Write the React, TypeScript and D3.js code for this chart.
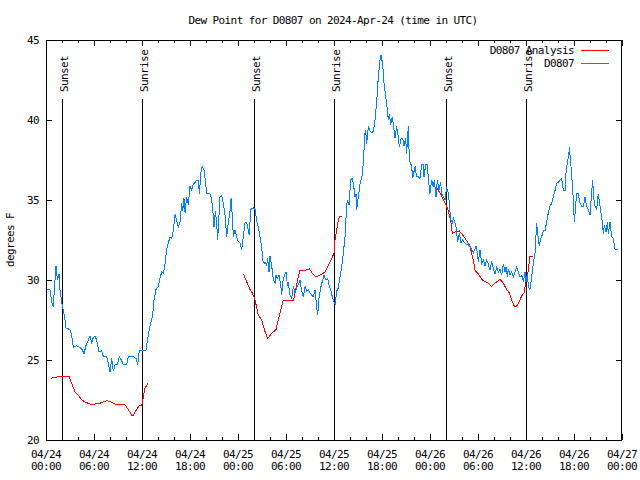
import React from "react";
import * as d3 from "d3";

const TITLE = "Dew Point for D0807 on 2024-Apr-24 (time in UTC)";
const Y_LABEL = "degrees F";
const SERIES_NAMES = ["D0807 Analysis", "D0807"];
const SERIES_COLORS = ["#ff0000", "#0080ff"];

const X_TICK_HOURS = [0, 6, 12, 18, 24, 30, 36, 42, 48, 54, 60, 66, 72];
const X_TICK_LABELS = [
  ["04/24", "00:00"], ["04/24", "06:00"], ["04/24", "12:00"], ["04/24", "18:00"],
  ["04/25", "00:00"], ["04/25", "06:00"], ["04/25", "12:00"], ["04/25", "18:00"],
  ["04/26", "00:00"], ["04/26", "06:00"], ["04/26", "12:00"], ["04/26", "18:00"],
  ["04/27", "00:00"],
];
const Y_TICKS = [20, 25, 30, 35, 40, 45];

const SUN_EVENTS: [number, string][] = [
  [2, "Sunset"], [12, "Sunrise"], [26, "Sunset"], [36, "Sunrise"], [50, "Sunset"], [60, "Sunrise"],
];

// observed dew point [hours since 2024-04-24 00:00 UTC, degF]
const OBS: [number, number][] = [
  [0, 29.4], [0.5, 29.4], [0.71, 28.6], [0.92, 28.3], [1.04, 29.4], [1.25, 30.9], [1.42, 30.0], [1.63, 30.4],
  [1.75, 29.4], [1.96, 28.6], [2.17, 28.1], [2.38, 27.5], [2.5, 27.0], [3.0, 26.9], [3.21, 26.5], [3.42, 25.8],
  [3.83, 25.9], [4.46, 25.7], [4.75, 25.4], [5.0, 25.9], [5.29, 26.25], [5.5, 26.5], [5.71, 26.1], [5.92, 26.4],
  [6.13, 26.5], [6.33, 26.25], [6.63, 25.5], [6.96, 25.6], [7.17, 25.2], [7.58, 25.2], [7.79, 24.8], [8.0, 24.25],
  [8.21, 25.1], [8.42, 24.3], [8.63, 24.7], [8.92, 24.7], [9.17, 25.2], [9.46, 24.95], [9.67, 24.7], [10.08, 24.7],
  [10.29, 25.2], [10.92, 25.2], [11.25, 25.1], [11.46, 24.7], [11.67, 25.6], [12.17, 25.6], [12.5, 25.6], [12.67, 26.25],
  [12.79, 26.56], [12.92, 26.9], [13.08, 27.3], [13.33, 27.8], [13.5, 28.75], [13.75, 29.4], [14.04, 29.6], [14.25, 30.1],
  [14.46, 30.5], [14.67, 30.4], [14.88, 31.0], [15.08, 31.9], [15.29, 32.3], [15.5, 32.7], [15.71, 32.6], [15.92, 33.1],
  [16.13, 34.1], [16.33, 33.75], [16.54, 33.3], [16.75, 33.6], [16.96, 34.8], [17.08, 34.3], [17.25, 35.1], [17.38, 34.2],
  [17.58, 35.2], [17.79, 34.7], [18.0, 35.9], [18.21, 35.6], [18.42, 36.0], [18.63, 36.1], [18.83, 36.25], [19.04, 36.25],
  [19.17, 35.4], [19.38, 36.8], [19.54, 37.1], [19.75, 36.9], [19.96, 36.0], [20.08, 35.4], [20.5, 35.4], [20.71, 35.0],
  [20.92, 33.96], [21.0, 33.3], [21.17, 34.3], [21.33, 33.6], [21.46, 32.5], [21.54, 33.3], [21.75, 35.2], [21.96, 35.3],
  [22.17, 34.8], [22.38, 34.06], [22.58, 32.7], [22.79, 33.6], [23.0, 34.3], [23.13, 35.1], [23.29, 34.0], [23.42, 32.7],
  [23.63, 33.1], [23.83, 32.7], [24.04, 32.4], [24.25, 32.3], [24.46, 31.9], [24.67, 32.7], [24.88, 33.6], [25.08, 33.6],
  [25.29, 33.1], [25.42, 32.8], [25.58, 34.4], [25.92, 34.5], [26.13, 34.4], [26.33, 33.75], [26.54, 33.3], [26.75, 32.7],
  [26.96, 32.1], [27.08, 31.25], [27.25, 31.04], [27.46, 31.1], [27.58, 30.9], [27.71, 31.35], [27.88, 30.5], [28.0, 31.5],
  [28.21, 30.9], [28.42, 30.0], [28.63, 29.8], [28.75, 30.3], [28.92, 30.1], [29.13, 30.3], [29.33, 29.7], [29.46, 29.06],
  [29.58, 29.8], [29.75, 30.2], [30.0, 30.5], [30.17, 29.7], [30.29, 29.8], [30.5, 29.06], [30.71, 28.85], [30.92, 29.6],
  [31.13, 29.2], [31.33, 29.5], [31.54, 29.7], [31.75, 30.0], [31.96, 29.3], [32.17, 28.96], [32.38, 29.6], [32.58, 29.3],
  [32.79, 29.4], [33.0, 29.2], [33.21, 29.06], [33.42, 28.96], [33.63, 29.4], [33.83, 28.3], [33.96, 27.8], [34.13, 28.9],
  [34.33, 29.5], [34.58, 30.0], [34.75, 30.3], [35.0, 30.0], [35.21, 30.1], [35.42, 29.6], [35.63, 29.3], [35.83, 28.85],
  [36.04, 28.6], [36.17, 28.5], [36.33, 29.3], [36.54, 29.5], [36.75, 30.2], [36.96, 30.8], [37.17, 31.7], [37.38, 32.7],
  [37.58, 34.6], [37.67, 35.0], [37.88, 34.7], [38.08, 36.25], [38.25, 36.35], [38.42, 36.04], [38.63, 35.2], [38.75, 35.4],
  [38.83, 34.4], [39.04, 35.2], [39.25, 36.0], [39.54, 36.6], [39.67, 37.4], [39.88, 39.2], [39.96, 39.4], [40.08, 38.5],
  [40.29, 39.6], [40.5, 39.3], [40.71, 39.2], [40.92, 39.3], [41.13, 40.0], [41.33, 41.1], [41.54, 42.7], [41.75, 43.75],
  [41.88, 44.06], [42.08, 43.5], [42.25, 42.3], [42.46, 41.5], [42.67, 40.6], [42.79, 40.0], [42.92, 40.4], [43.08, 39.7],
  [43.29, 40.2], [43.5, 39.4], [43.63, 38.85], [43.83, 39.6], [44.04, 38.96], [44.17, 38.3], [44.38, 38.85], [44.58, 38.85],
  [44.75, 38.4], [44.96, 38.85], [45.08, 37.9], [45.29, 39.6], [45.42, 37.5], [45.71, 37.1], [45.83, 36.35], [46.13, 37.1],
  [46.33, 36.46], [46.54, 36.46], [46.75, 36.35], [46.96, 37.2], [47.17, 37.2], [47.25, 36.46], [47.46, 37.2], [47.67, 37.2],
  [47.79, 36.35], [48.0, 35.4], [48.21, 36.25], [48.42, 35.8], [48.54, 36.25], [48.75, 35.2], [48.92, 36.25], [49.13, 35.6],
  [49.33, 36.1], [49.46, 35.4], [49.67, 35.2], [49.88, 35.0], [50.08, 35.8], [50.29, 35.4], [50.42, 34.8], [50.58, 33.75],
  [50.79, 33.6], [50.92, 33.85], [51.13, 33.54], [51.25, 33.3], [51.46, 32.4], [51.67, 32.9], [51.88, 32.3], [52.08, 32.5],
  [52.38, 32.3], [52.58, 32.2], [52.79, 32.2], [53.0, 32.1], [53.21, 31.9], [53.42, 31.7], [53.75, 32.1], [53.92, 31.7],
  [54.04, 31.15], [54.25, 31.9], [54.46, 31.04], [54.67, 31.25], [54.88, 30.9], [55.08, 31.25], [55.29, 31.0], [55.5, 30.6],
  [55.71, 31.15], [55.92, 30.7], [56.13, 30.4], [56.33, 30.8], [56.54, 30.5], [56.75, 30.7], [56.96, 30.3], [57.17, 31.0],
  [57.38, 30.5], [57.5, 30.8], [57.67, 30.2], [57.79, 30.7], [58.0, 30.3], [58.21, 30.5], [58.42, 30.2], [58.63, 30.5],
  [58.83, 30.8], [59.04, 30.5], [59.25, 30.2], [59.46, 30.3], [59.67, 29.9], [59.88, 30.5], [60.0, 29.9], [60.17, 30.4],
  [60.29, 29.6], [60.5, 29.4], [60.71, 30.2], [60.92, 31.04], [61.13, 31.7], [61.33, 33.54], [61.46, 32.9], [61.67, 32.1],
  [61.83, 32.6], [61.96, 32.7], [62.17, 33.1], [62.38, 33.1], [62.58, 33.6], [62.79, 34.2], [63.0, 34.6], [63.21, 34.8],
  [63.42, 35.2], [63.63, 35.6], [63.83, 36.04], [64.04, 36.1], [64.25, 36.25], [64.46, 36.35], [64.67, 35.6], [64.88, 35.6],
  [65.0, 36.67], [65.17, 37.4], [65.33, 37.7], [65.42, 38.3], [65.58, 37.4], [65.71, 36.56], [65.92, 35.0], [66.04, 33.6],
  [66.17, 34.4], [66.33, 35.4], [66.54, 35.4], [66.75, 34.8], [66.96, 34.6], [67.17, 34.6], [67.38, 35.2], [67.58, 34.6],
  [67.79, 34.4], [68.0, 34.06], [68.21, 35.5], [68.33, 36.25], [68.5, 35.0], [68.63, 34.6], [68.83, 34.4], [69.04, 35.4],
  [69.25, 34.6], [69.46, 33.96], [69.67, 32.9], [69.79, 33.44], [70.0, 33.0], [70.17, 33.6], [70.29, 32.9], [70.5, 33.6],
  [70.71, 32.7], [70.92, 32.6], [71.13, 31.9], [71.54, 31.9],
];

// analysis dew point, three separate segments
const ANALYSIS_1: [number, number][] = [
  [0.63, 23.86], [1.13, 23.9], [1.75, 24.0], [2.38, 23.96], [2.88, 23.96], [3.21, 23.54], [3.63, 23.0], [4.04, 22.8],
  [4.46, 22.5], [5.0, 22.35], [5.5, 22.25], [6.13, 22.25], [6.75, 22.3], [7.25, 22.4], [7.67, 22.46], [8.0, 22.4],
  [8.63, 22.25], [9.25, 22.2], [9.88, 22.2], [10.29, 21.9], [10.71, 21.56], [10.92, 21.56], [11.33, 21.9], [11.67, 22.14],
  [11.96, 22.14], [12.17, 22.7], [12.38, 23.23], [12.79, 23.6],
];
const ANALYSIS_2: [number, number][] = [
  [24.67, 30.4], [25.08, 29.9], [25.5, 29.4], [25.79, 29.2], [26.13, 28.75], [26.54, 27.8], [26.96, 27.5], [27.38, 26.77],
  [27.71, 26.35], [28.21, 26.67], [28.75, 26.9], [29.04, 27.5], [29.38, 28.2], [29.67, 28.75], [30.17, 28.7], [30.92, 28.7],
  [31.21, 29.4], [31.54, 30.2], [31.75, 30.6], [32.38, 30.6], [32.92, 30.7], [33.33, 30.4], [33.75, 30.2], [34.25, 30.3],
  [34.88, 30.5], [35.29, 30.9], [35.71, 31.35], [36.0, 31.67], [36.13, 32.5], [36.33, 33.1], [36.54, 33.75], [36.67, 33.96],
  [36.96, 34.0],
];
const ANALYSIS_3: [number, number][] = [
  [48.75, 35.9], [49.04, 35.6], [49.33, 35.4], [49.67, 35.0], [50.0, 34.7], [50.29, 34.3], [50.58, 33.75], [50.79, 32.9],
  [51.13, 33.0], [51.67, 33.06], [51.96, 32.9], [52.38, 32.6], [52.79, 32.3], [53.0, 32.1], [53.21, 31.67], [53.42, 31.25],
  [53.63, 30.6], [54.04, 30.4], [54.46, 30.04], [54.88, 29.9], [55.29, 29.8], [55.71, 29.6], [56.13, 29.8], [56.75, 30.04],
  [57.17, 29.8], [57.58, 29.4], [57.92, 29.2], [58.21, 28.75], [58.5, 28.4], [58.75, 28.3], [59.04, 28.54], [59.46, 29.0],
  [59.75, 29.2], [60.0, 29.9], [60.29, 30.6], [60.5, 31.5], [60.83, 31.5],
];
const ANALYSIS_SEGMENTS = [ANALYSIS_1, ANALYSIS_2, ANALYSIS_3];

const W = 640, H = 480;
const M = { left: 46, right: 622, top: 40, bottom: 440 };
const FONT = "'DejaVu Sans Mono', 'Liberation Mono', monospace";
const FS = 11;
const LS = -0.6;

export default function App() {
  const x = d3.scaleLinear().domain([0, 72]).range([M.left, M.right]);
  const y = d3.scaleLinear().domain([20, 45]).range([M.bottom, M.top]);
  const line = d3.line<[number, number]>().x((d) => x(d[0])).y((d) => y(d[1]));
  const minorHours = d3.range(0, 73, 2);
  const txt = { fontFamily: FONT, fontSize: FS, letterSpacing: LS, fill: "#000" } as any;
  const px = (v: number) => Math.round(v) + 0.5;

  return (
    <svg width={W} height={H} style={{ position: "absolute", left: 0, top: 0, background: "#fff" }}>
      <rect x={0} y={0} width={W} height={H} fill="#fff" />
      <text x={333} y={24} textAnchor="middle" {...txt}>{TITLE}</text>
      <text transform="translate(14,240) rotate(-90)" textAnchor="middle" {...txt}>{Y_LABEL}</text>

      <g shapeRendering="crispEdges" stroke="#000" strokeWidth={1}>
        {minorHours.map((h) => {
          const major = h % 6 === 0;
          const len = major ? 6 : 3;
          return (
            <g key={"xt" + h}>
              <line x1={px(x(h))} x2={px(x(h))} y1={M.bottom} y2={M.bottom - len} />
              <line x1={px(x(h))} x2={px(x(h))} y1={M.top} y2={M.top + len} />
            </g>
          );
        })}
        {Y_TICKS.map((v) => (
          <g key={"yt" + v}>
            <line x1={M.left} x2={M.left + 6} y1={px(y(v))} y2={px(y(v))} />
            <line x1={M.right} x2={M.right - 6} y1={px(y(v))} y2={px(y(v))} />
          </g>
        ))}
      </g>
      {X_TICK_HOURS.map((h, i) => (
        <g key={"xl" + h}>
          <text x={x(h)} y={458} textAnchor="middle" {...txt}>{X_TICK_LABELS[i][0]}</text>
          <text x={x(h)} y={470} textAnchor="middle" {...txt}>{X_TICK_LABELS[i][1]}</text>
        </g>
      ))}
      {Y_TICKS.map((v) => (
        <text key={"yl" + v} x={39} y={y(v) + 4} textAnchor="end" {...txt}>{v}</text>
      ))}

      {SUN_EVENTS.map(([h, label], i) => (
        <g key={"sun" + i}>
          <line x1={px(x(h))} x2={px(x(h))} y1={99} y2={M.bottom} stroke="#000" shapeRendering="crispEdges" />
          <text transform={`translate(${x(h) + 6},92) rotate(-90)`} textAnchor="start" {...txt}>{label}</text>
        </g>
      ))}

      {ANALYSIS_SEGMENTS.map((seg, i) => (
        <path key={"an" + i} d={line(seg) || ""} fill="none" stroke={SERIES_COLORS[0]} strokeWidth={1} shapeRendering="crispEdges" />
      ))}
      <path d={line(OBS) || ""} fill="none" stroke={SERIES_COLORS[1]} strokeWidth={1} shapeRendering="crispEdges" />

      {SERIES_NAMES.map((name, i) => {
        const cy = 50 + i * 13;
        return (
          <g key={"lg" + i}>
            <text x={574} y={cy + 4} textAnchor="end" {...txt}>{name}</text>
            <line x1={581} x2={609} y1={cy + 0.5} y2={cy + 0.5} stroke={SERIES_COLORS[i]} shapeRendering="crispEdges" />
          </g>
        );
      })}

      <rect x={M.left + 0.5} y={M.top + 0.5} width={M.right - M.left - 1} height={M.bottom - M.top} fill="none" stroke="#000" shapeRendering="crispEdges" />
    </svg>
  );
}
